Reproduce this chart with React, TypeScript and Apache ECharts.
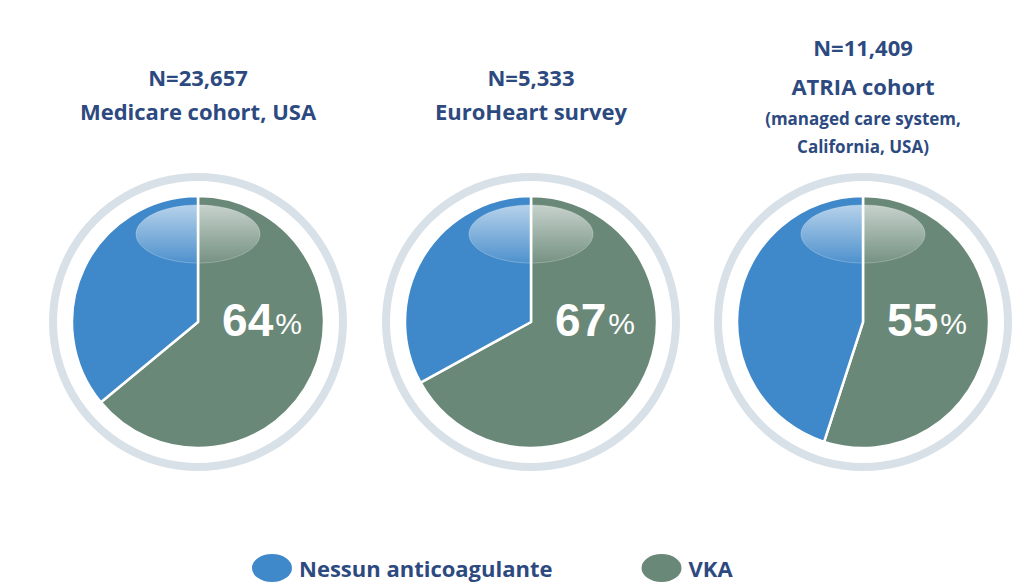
import React, { useEffect, useRef } from "react";
import * as echarts from "echarts";

const categories = ["VKA", "Nessun anticoagulante"];
const vkaShare = [64, 67, 55];
const noneShare = [36, 33, 45];
const sampleSizes = ["N=23,657", "N=5,333", "N=11,409"];
const cohortNames = ["Medicare cohort, USA", "EuroHeart survey", "ATRIA cohort"];
const cohortNotes = ["", "", "(managed care system,|California, USA)"];

const BLUE = "#3f88c9";
const GREEN = "#6a8878";
const TITLE = "#2d4a80";
const FONT = "'Open Sans', Lato, sans-serif";
const NUMFONT = "'Liberation Sans', Arial, sans-serif";

const centersX = [198, 531, 863];
const centerY = 322;

export default function App() {
  const ref = useRef<HTMLDivElement>(null);
  useEffect(() => {
    if (!ref.current) return;
    const chart = echarts.init(ref.current, undefined, { renderer: "svg" });

    const series: any[] = [];
    const titles: any[] = [];
    const graphics: any[] = [];

    centersX.forEach((cx, i) => {
      series.push({
        type: "pie",
        silent: true,
        center: [cx, centerY],
        radius: [141, 149],
        label: { show: false },
        labelLine: { show: false },
        itemStyle: { color: "#d9e1e8" },
        data: [{ name: "ring", value: 1 }],
      });
      series.push({
        type: "pie",
        silent: true,
        center: [cx, centerY],
        radius: 126,
        startAngle: 90,
        clockwise: true,
        label: { show: false },
        labelLine: { show: false },
        itemStyle: { borderColor: "#ffffff", borderWidth: 2.5 },
        data: [
          { name: categories[0], value: vkaShare[i], itemStyle: { color: GREEN } },
          { name: categories[1], value: noneShare[i], itemStyle: { color: BLUE } },
        ],
      });
      graphics.push({
        type: "ellipse",
        silent: true,
        shape: { cx, cy: 234, rx: 62, ry: 29 },
        style: {
          fill: new echarts.graphic.LinearGradient(0, 0, 0, 1, [
            { offset: 0, color: "rgba(255,255,255,0.62)" },
            { offset: 1, color: "rgba(255,255,255,0.08)" },
          ]),
          stroke: "rgba(255,255,255,0.25)",
          lineWidth: 1,
        },
        z: 10,
      });
      titles.push({
        text: `{a|${vkaShare[i]}}{b|%}`,
        left: cx + 64,
        top: 320,
        textAlign: "center",
        textVerticalAlign: "middle",
        padding: 0,
        textStyle: {
          rich: {
            a: { fontFamily: NUMFONT, fontWeight: "bold", fontSize: 46, color: "#ffffff" },
            b: { fontFamily: NUMFONT, fontWeight: "normal", fontSize: 30, color: "#ffffff", padding: [6, 0, 0, 2] },
          },
        },
      });
      const hasNote = cohortNotes[i] !== "";
      const y1 = hasNote ? 47 : 77;
      const y2 = hasNote ? 86 : 111;
      titles.push({
        text: sampleSizes[i],
        left: cx,
        top: y1,
        textAlign: "center",
        textVerticalAlign: "middle",
        padding: 0,
        textStyle: { fontFamily: FONT, fontWeight: "bold", fontSize: 22, color: TITLE },
      });
      titles.push({
        text: cohortNames[i],
        left: cx,
        top: y2,
        textAlign: "center",
        textVerticalAlign: "middle",
        padding: 0,
        textStyle: { fontFamily: FONT, fontWeight: "bold", fontSize: 22, color: TITLE },
      });
      if (hasNote) {
        cohortNotes[i].split("|").forEach((line, k) => {
          titles.push({
            text: line,
            left: cx,
            top: 118 + k * 28,
            textAlign: "center",
            textVerticalAlign: "middle",
            padding: 0,
            textStyle: { fontFamily: FONT, fontWeight: "bold", fontSize: 17, color: TITLE },
          });
        });
      }
    });

    chart.setOption({
      animation: false,
      backgroundColor: "#ffffff",
      title: titles,
      legend: {
        data: [categories[1], categories[0]],
        left: 250,
        top: 552,
        padding: 0,
        itemWidth: 42,
        itemHeight: 30,
        itemGap: 87,
        icon: "path://M0,15a21,15 0 1,0 42,0a21,15 0 1,0 -42,0z",
        selectedMode: false,
        textStyle: { fontFamily: FONT, fontWeight: "bold", fontSize: 22, color: TITLE, padding: [0, 0, 0, 1] },
      },
      series,
      graphic: graphics,
    });
    return () => chart.dispose();
  }, []);
  return (
    <div
      ref={ref}
      style={{ position: "absolute", left: 0, top: 0, width: 1024, height: 586 }}
    />
  );
}
